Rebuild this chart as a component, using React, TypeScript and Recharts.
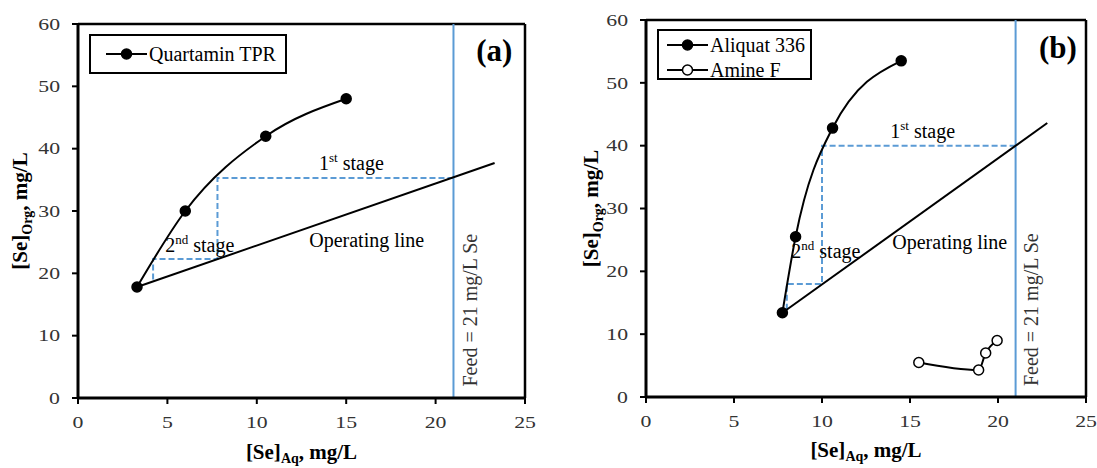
import React from "react";
import {
  ComposedChart,
  Line,
  XAxis,
  YAxis,
  ReferenceLine,
  ReferenceDot,
  Legend,
  Label,
} from "recharts";

const FONT = "'Liberation Serif', 'Times New Roman', serif";
const BLUE = "#5B9BD5";

// (a) Quartamin TPR isotherm + McCabe-Thiele construction
const quartaminX = [3.3, 6.0, 10.5, 15.0];
const quartaminY = [17.8, 30.0, 42.0, 48.0];
const opLineAX = [3.3, 23.3];
const opLineAY = [17.8, 37.7];
const stageAX = [21, 7.8, 7.8, 4.2, 4.2];
const stageAY = [35.3, 35.3, 22.3, 22.3, 18.7];

// (b) Aliquat 336 / Amine F
const aliquatX = [7.75, 8.5, 10.6, 14.5];
const aliquatY = [13.4, 25.5, 42.8, 53.5];
const amineX = [15.5, 18.9, 19.3, 19.95];
const amineY = [5.5, 4.3, 7.0, 9.0];
const opLineBX = [7.75, 22.8];
const opLineBY = [13.4, 43.6];
const stageBX = [21, 10, 10, 8, 8];
const stageBY = [40, 40, 18, 18, 13.9];

const feedX = 21;
const xTicks = [0, 5, 10, 15, 20, 25];
const yTicks = [0, 10, 20, 30, 40, 50, 60];

const pts = (xs: number[], ys: number[]) => xs.map((x, i) => ({ x, y: ys[i] }));

// annotation anchors, in data units (text baseline)
const notesA = [
  { x: 15.29, y: 36.5, lead: "1", sup: "st", rest: " stage" },
  { x: 6.81, y: 23.5, lead: "2", sup: "nd", rest: " stage" },
  { x: 16.15, y: 24.2, lead: "Operating line" },
];
const notesB = [
  { x: 15.72, y: 41.2, lead: "1", sup: "st", rest: " stage" },
  { x: 10.22, y: 22.1, lead: "2", sup: "nd", rest: " stage" },
  { x: 17.26, y: 23.5, lead: "Operating line" },
];

function XTick(props: any) {
  const { x, y, payload } = props;
  return (
    <g transform={`translate(${x},${y})`}>
      <text transform="scale(1.28,1)" textAnchor="middle" dy="0.71em" fontSize={17} fontFamily={FONT} fill="#333">
        {payload.value}
      </text>
    </g>
  );
}

function YTick(props: any) {
  const { x, y, payload } = props;
  return (
    <g transform={`translate(${x},${y})`}>
      <text transform="scale(1.28,1)" textAnchor="end" dy="0.34em" fontSize={17} fontFamily={FONT} fill="#333">
        {payload.value}
      </text>
    </g>
  );
}

const yLabel = (gap: number) => (props: any) => {
  const { x, y, width, height } = props.viewBox;
  const bx = x + width - gap;
  const cy = y + height / 2;
  return (
    <text x={bx} y={cy} transform={`rotate(-90 ${bx} ${cy})`} textAnchor="middle" fontFamily={FONT} fontWeight={700} fontSize={21} fill="#000">
      [Se]
      <tspan fontSize={14} dy={5}>Org</tspan>
      <tspan dy={-5}>, mg/L</tspan>
    </text>
  );
};

const xLabel = (gap: number) => (props: any) => {
  const { x, y, width } = props.viewBox;
  const cx = x + width / 2;
  return (
    <text x={cx} y={y + gap} textAnchor="middle" fontFamily={FONT} fontWeight={700} fontSize={21} fill="#000">
      [Se]
      <tspan fontSize={14} dy={4}>Aq</tspan>
      <tspan dy={-4}>, mg/L</tspan>
    </text>
  );
};

const centre = (props: any) => {
  const vb = props.viewBox;
  return [vb.x + vb.width / 2, vb.y + vb.height / 2];
};

const stageNote = (n: any) => (props: any) => {
  const [cx, cy] = centre(props);
  return (
    <text x={cx} y={cy} textAnchor="middle" fontFamily={FONT} fontSize={20} fill="#000">
      {n.lead}
      {n.sup && (
        <tspan fontSize={13} dy={-8}>
          {n.sup}
        </tspan>
      )}
      {n.rest && <tspan dy={8}>{n.rest}</tspan>}
    </text>
  );
};

const feedNote = (props: any) => {
  const [cx, cy] = centre(props);
  return (
    <text x={cx} y={cy} transform={`rotate(-90 ${cx} ${cy})`} textAnchor="middle" fontFamily={FONT} fontSize={20} fill="#333">
      Feed = 21 mg/L Se
    </text>
  );
};

const tagNote = (tag: string) => (props: any) => {
  const [cx, cy] = centre(props);
  return (
    <text x={cx} y={cy} textAnchor="middle" fontFamily={FONT} fontWeight={700} fontSize={31} fill="#000">
      {tag}
    </text>
  );
};

interface LegendEntry {
  name: string;
  open: boolean;
}

function LegendBox({ entries, w, h, x0, rowY, rowGap }: { entries: LegendEntry[]; w: number; h: number; x0: number; rowY: number; rowGap: number }) {
  return (
    <svg width={w} height={h} style={{ display: "block" }}>
      <rect x={1} y={1} width={w - 2} height={h - 2} fill="#fff" stroke="#000" strokeWidth={2} />
      {entries.map((e, i) => {
        const cy = rowY + i * rowGap;
        return (
          <g key={e.name}>
            <line x1={x0} x2={x0 + 41} y1={cy} y2={cy} stroke="#000" strokeWidth={2} />
            <circle cx={x0 + 20.5} cy={cy} r={5} fill={e.open ? "#fff" : "#000"} stroke="#000" strokeWidth={1.5} />
            <text x={x0 + 43} y={cy} dy="0.34em" fontFamily={FONT} fontSize={20} fill="#000">
              {e.name}
            </text>
          </g>
        );
      })}
    </svg>
  );
}

interface PanelProps {
  width: number;
  margin: { top: number; right: number; bottom: number; left: number };
  curves: { data: { x: number; y: number }[]; open: boolean }[];
  opLine: { x: number; y: number }[];
  stages: { x: number; y: number }[];
  notes: any[];
  feedAt: [number, number];
  tag: string;
  tagAt: [number, number];
  yGap: number;
  xGap: number;
  legend: React.ReactNode;
  legendPos: { left: number; top: number };
}

function Panel(p: PanelProps) {
  return (
    <ComposedChart width={p.width} height={468} margin={p.margin}>
      <XAxis
        type="number"
        dataKey="x"
        domain={[0, 25]}
        ticks={xTicks}
        height={50}
        tick={<XTick />}
        tickSize={6}
        tickMargin={12}
        tickLine={{ stroke: "#000", strokeWidth: 2 }}
        axisLine={{ stroke: "#000", strokeWidth: 3 }}
        interval={0}
      >
        <Label content={xLabel(p.xGap)} />
      </XAxis>
      <YAxis
        type="number"
        domain={[0, 60]}
        ticks={yTicks}
        width={60}
        tick={<YTick />}
        tickSize={6}
        tickMargin={12}
        tickLine={{ stroke: "#000", strokeWidth: 2 }}
        axisLine={{ stroke: "#000", strokeWidth: 3 }}
        interval={0}
      >
        <Label content={yLabel(p.yGap)} />
      </YAxis>
      <ReferenceLine y={60} stroke="#000" strokeWidth={2.5} />
      <ReferenceLine x={25} stroke="#000" strokeWidth={2.5} />
      <ReferenceLine x={feedX} stroke={BLUE} strokeWidth={2} />
      <Line
        data={p.stages}
        dataKey="y"
        type="linear"
        stroke={BLUE}
        strokeWidth={2}
        strokeDasharray="6 3"
        dot={false}
        activeDot={false}
        isAnimationActive={false}
      />
      <Line
        data={p.opLine}
        dataKey="y"
        type="linear"
        stroke="#000"
        strokeWidth={2}
        dot={false}
        activeDot={false}
        isAnimationActive={false}
      />
      {p.curves.map((c, i) => (
        <Line
          key={i}
          data={c.data}
          dataKey="y"
          type="monotone"
          stroke="#000"
          strokeWidth={2}
          dot={{ r: 5, fill: c.open ? "#fff" : "#000", stroke: "#000", strokeWidth: 1.5 }}
          activeDot={false}
          isAnimationActive={false}
        />
      ))}
      {p.notes.map((n, i) => (
        <ReferenceDot key={i} x={n.x} y={n.y} r={2} fill="none" stroke="none" label={stageNote(n)} />
      ))}
      <ReferenceDot x={p.feedAt[0]} y={p.feedAt[1]} r={2} fill="none" stroke="none" label={feedNote} />
      <ReferenceDot x={p.tagAt[0]} y={p.tagAt[1]} r={2} fill="none" stroke="none" label={tagNote(p.tag)} />
      <Legend
        layout="vertical"
        align="center"
        verticalAlign="middle"
        wrapperStyle={{ left: p.legendPos.left, top: p.legendPos.top, width: "auto", height: "auto" }}
        content={() => p.legend}
      />
    </ComposedChart>
  );
}

export default function App() {
  return (
    <div style={{ position: "absolute", left: 0, top: 0, width: 1097, height: 468, background: "#fff" }}>
      <div style={{ position: "absolute", left: 0, top: 0 }}>
        <Panel
          width={550}
          margin={{ top: 24, right: 25, bottom: 20, left: 18 }}
          curves={[{ data: pts(quartaminX, quartaminY), open: false }]}
          opLine={pts(opLineAX, opLineAY)}
          stages={pts(stageAX, stageAY)}
          notes={notesA}
          feedAt={[22.29, 14.1]}
          tag="(a)"
          tagAt={[23.28, 54]}
          yGap={51}
          xGap={61}
          legend={<LegendBox entries={[{ name: "Quartamin TPR", open: false }]} w={198} h={40} x0={17} rowY={20} rowGap={0} />}
          legendPos={{ left: 89, top: 34 }}
        />
      </div>
      <div style={{ position: "absolute", left: 550, top: 0 }}>
        <Panel
          width={547}
          margin={{ top: 20, right: 11, bottom: 21, left: 36 }}
          curves={[
            { data: pts(aliquatX, aliquatY), open: false },
            { data: pts(amineX, amineY), open: true },
          ]}
          opLine={pts(opLineBX, opLineBY)}
          stages={pts(stageBX, stageBY)}
          notes={notesB}
          feedAt={[22.27, 13.9]}
          tag="(b)"
          tagAt={[23.4, 54]}
          yGap={48}
          xGap={60}
          legend={
            <LegendBox
              entries={[
                { name: "Aliquat 336", open: false },
                { name: "Amine F", open: true },
              ]}
              w={155}
              h={51}
              x0={10}
              rowY={16}
              rowGap={25}
            />
          }
          legendPos={{ left: 107, top: 29 }}
        />
      </div>
    </div>
  );
}
